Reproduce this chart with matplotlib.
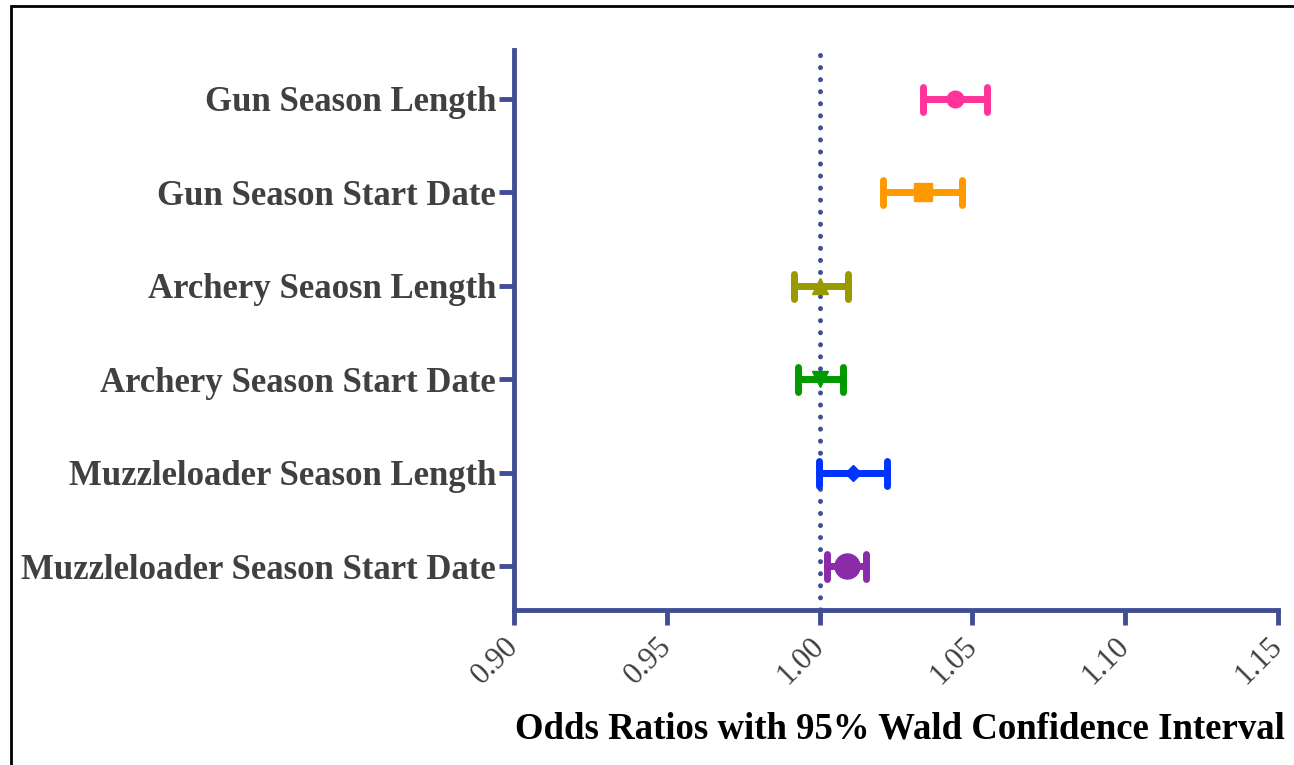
import matplotlib.pyplot as plt
from matplotlib.patches import Rectangle
from matplotlib.markers import MarkerStyle
from matplotlib.transforms import ScaledTranslation

# values
labels = ["Gun Season Length", "Gun Season Start Date", "Archery Seaosn Length",
          "Archery Season Start Date", "Muzzleloader Season Length",
          "Muzzleloader Season Start Date"]
odds = [1.0443, 1.0337, 1.0001, 1.0000, 1.0110, 1.0090]
lower = [1.0338, 1.0207, 0.9916, 0.9929, 0.9998, 1.0024]
upper = [1.0548, 1.0466, 1.0093, 1.0077, 1.0221, 1.0152]
xticks = [0.90, 0.95, 1.00, 1.05, 1.10, 1.15]

colors = ["#FF3399", "#FF9900", "#999900", "#009900", "#0033FF", "#8B2BAA"]
markers = ["o", "s", "^", "v", "D", "o"]
msizes = [12, 13, 12, 12, 8, 18]
axis_col = "#414E96"
text_col = "#404040"

fig = plt.figure(figsize=(12.94, 7.65), dpi=100)
ax = fig.add_axes([514 / 1294, 155 / 765, (1278 - 514) / 1294, (610 - 50) / 765])

# frame around the figure (only top/left visible in reference)
fig.patches.append(Rectangle((11 / 1294, -0.1), 1.2, 1.1 - 6 / 765,
                             transform=fig.transFigure, fill=False,
                             edgecolor="black", linewidth=2))

ax.plot([1.0, 1.0], [-0.6, 5.47], color=axis_col, linewidth=3.6,
        linestyle=(0, (0.01, 2.4)), dash_capstyle="round", zorder=1)

for i in range(len(labels)):
    _, caps, bars = ax.errorbar(odds[i], i,
                                xerr=[[odds[i] - lower[i]], [upper[i] - odds[i]]],
                                fmt=markers[i], color=colors[i], ms=msizes[i],
                                mec=colors[i], elinewidth=5, capsize=9,
                                capthick=5, zorder=3)
    for c in caps:
        c.set_marker(MarkerStyle("|", capstyle="round"))
    for b in bars:
        b.set_capstyle("round")

ax.set_xlim(0.90, 1.15)
ax.set_ylim(5.47, -0.52)
ax.set_xticks(xticks)
ax.set_xticklabels([f"{t:.2f}" for t in xticks], rotation=45, ha="right",
                   va="center", rotation_mode="anchor", fontsize=22,
                   family="Liberation Serif", color=text_col)
shift = ScaledTranslation(-5 / 100, 0, fig.dpi_scale_trans)
for lab in ax.get_xticklabels():
    lab.set_transform(lab.get_transform() + shift)
ax.set_yticks(range(len(labels)))
ax.set_yticklabels(labels, fontsize=25, family="Liberation Serif",
                   fontweight="bold", color=text_col)

for s in ["top", "right"]:
    ax.spines[s].set_visible(False)
for s in ["left", "bottom"]:
    ax.spines[s].set_color(axis_col)
    ax.spines[s].set_linewidth(3.5)
ax.tick_params(axis="both", color=axis_col, width=3.5, length=11)
ax.tick_params(axis="x", pad=12)
ax.tick_params(axis="y", pad=2)

fig.text(1285 / 1294, 36 / 765, "Odds Ratios with 95% Wald Confidence Interval",
         ha="right", va="center", fontsize=26.5, fontweight="bold",
         family="Liberation Serif", color="black")

fig.savefig("out.png", dpi=100)
